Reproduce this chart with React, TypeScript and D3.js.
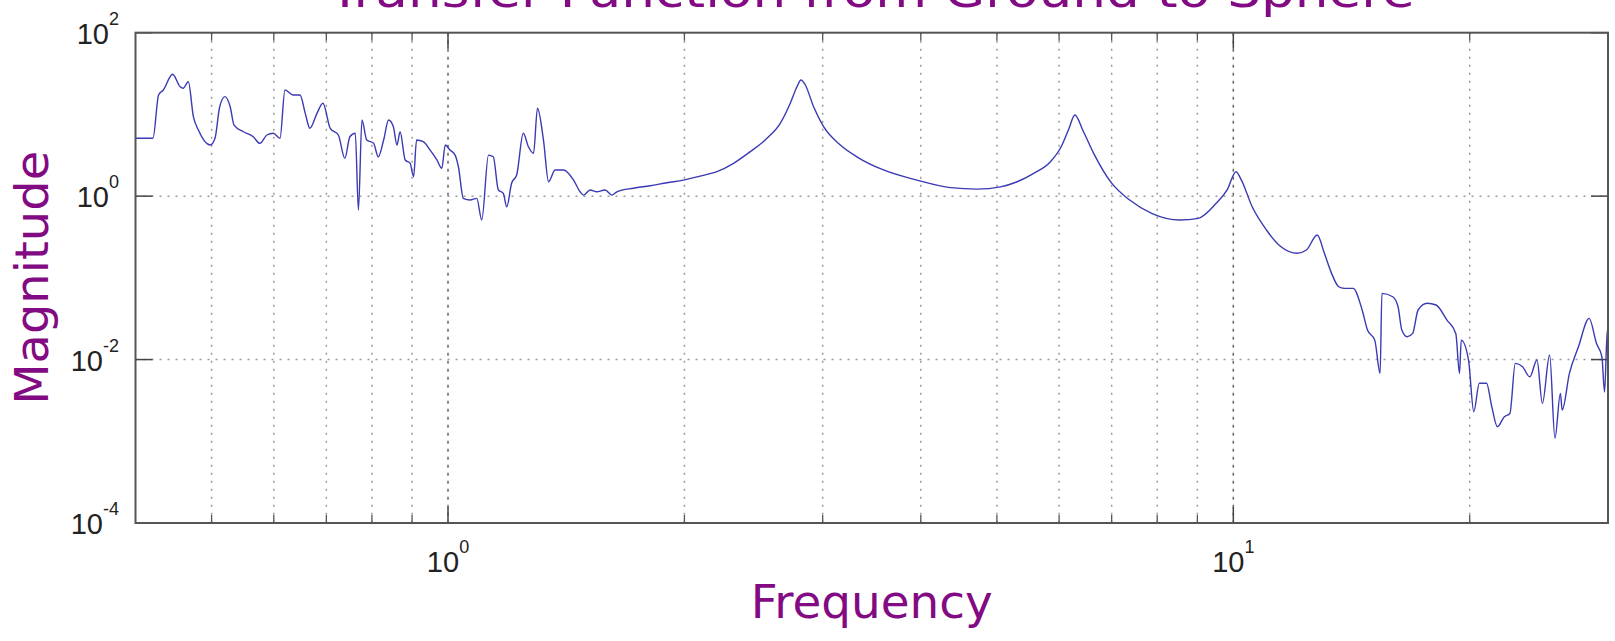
import React from "react";
import * as d3 from "d3";

const freq = [0.4, 0.421, 0.428, 0.434, 0.446, 0.456, 0.460, 0.467, 0.474, 0.481,
  0.498, 0.505, 0.512, 0.520, 0.528, 0.534, 0.549, 0.565, 0.576, 0.588,
  0.599, 0.611, 0.620, 0.635, 0.648, 0.658, 0.667, 0.681, 0.693, 0.708,
  0.725, 0.739, 0.750, 0.762, 0.769, 0.777, 0.788, 0.804, 0.815, 0.828,
  0.840, 0.852, 0.861, 0.869, 0.882, 0.895, 0.904, 0.912, 0.930, 0.949,
  0.968, 0.982, 0.992, 1.006, 1.021, 1.031, 1.046, 1.067, 1.088, 1.104,
  1.126, 1.142, 1.159, 1.176, 1.188, 1.205, 1.223, 1.247, 1.266, 1.285,
  1.300, 1.323, 1.343, 1.369, 1.403, 1.445, 1.473, 1.488, 1.517, 1.547,
  1.585, 1.617, 1.641, 1.722, 1.809, 1.901, 1.994, 2.094, 2.200, 2.310,
  2.426, 2.548, 2.649, 2.728, 2.782, 2.815, 2.851, 2.921, 3.008, 3.159,
  3.316, 3.585, 3.956, 4.364, 4.719, 5.053, 5.306, 5.570, 5.85, 6.037,
  6.166, 6.286, 6.43, 6.64, 7.00, 7.38, 7.87, 8.55, 9.02, 9.51,
  9.82, 10.08, 10.24, 10.57, 11.02, 11.50, 12.06, 12.39, 12.79, 13.06,
  13.34, 13.62, 13.84, 14.21, 14.59, 14.82, 15.14, 15.38, 15.46, 15.96,
  16.21, 16.39, 16.65, 16.92, 17.19, 17.65, 18.12, 18.71, 19.20, 19.41,
  19.51, 19.93, 20.24, 20.57, 21.01, 21.34, 21.69, 22.14, 22.50, 22.86,
  23.35, 23.85, 24.36, 24.75, 25.28, 25.68, 26.09, 26.23, 26.79, 27.51,
  28.39, 29.0, 29.47, 29.7, 29.94, 30];

const mag = [5.1, 5.1, 17.3, 19.9, 31.0, 21.8, 20.9, 25.1, 9.37, 6.44,
  4.22, 5.10, 12.4, 16.5, 12.4, 7.41, 6.14, 5.33, 4.43, 5.60,
  5.87, 5.10, 19.9, 17.3, 17.3, 10.3, 6.76, 10.3, 13.7, 6.76,
  5.60, 2.90, 5.33, 5.87, 0.676, 8.54, 4.86, 4.43, 3.03, 4.86,
  8.54, 7.07, 4.22, 6.14, 2.77, 2.52, 1.73, 4.86, 4.63, 3.66,
  2.77, 2.19, 4.22, 3.66, 3.18, 2.29, 0.94, 0.895, 0.94, 0.51,
  3.18, 3.03, 1.19, 1.08, 0.74, 1.44, 1.81, 5.87, 4.02, 3.34,
  11.9, 4.86, 1.50, 2.09, 2.09, 1.57, 1.13, 1.03, 1.19, 1.13,
  1.19, 1.03, 1.13, 1.25, 1.34, 1.46, 1.57, 1.76, 1.99, 2.52,
  3.50, 5.10, 7.78, 13.7, 21.8, 26.4, 22.9, 12.4, 7.07, 4.22,
  3.03, 2.09, 1.57, 1.27, 1.22, 1.30, 1.50, 1.90, 2.64, 4.02,
  6.44, 9.83, 6.44, 3.34, 1.44, 0.895, 0.616, 0.51, 0.535, 0.817,
  1.19, 1.99, 1.57, 0.74, 0.385, 0.240, 0.20, 0.219, 0.334, 0.20,
  0.1135, 0.0778, 0.0744, 0.0744, 0.0404, 0.0230, 0.0173, 0.00678, 0.0646, 0.0587,
  0.0443, 0.0230, 0.0190, 0.0209, 0.0404, 0.0488, 0.0465, 0.0304, 0.0209, 0.00678,
  0.0173, 0.00986, 0.0023, 0.00512, 0.00512, 0.00264, 0.00151, 0.0020, 0.00219, 0.00898,
  0.00817, 0.00615, 0.00986, 0.00291, 0.01135, 0.00109, 0.00386, 0.00241, 0.00678, 0.01435,
  0.0319, 0.0158, 0.0108, 0.004, 0.0230, 0.008];

const xMajorTicks = [1, 10];
const xMinorTicks = [0.5, 0.6, 0.7, 0.8, 0.9, 2, 3, 4, 5, 6, 7, 8, 9, 20];
const xTickExps = ["0", "1"];
const yTicks = [1e2, 1, 1e-2, 1e-4];
const yTickExps = ["2", "0", "-2", "-4"];

const titleText = "Transfer Function from Ground to Sphere";
const xLabel = "Frequency";
const yLabel = "Magnitude";

export default function App() {
  const W = 1615, H = 641;
  const L = 135.5, R = 1608, T = 32.7, B = 523;
  const x = d3.scaleLog().domain([0.4, 30]).range([L, R]);
  const y = d3.scaleLog().domain([1e-4, 1e2]).range([B, T]);
  const line = d3.line<number>().x((d, i) => x(freq[i])).y((d) => y(d)).curve(d3.curveMonotoneX);
  const path = line(mag) || "";
  const labelFont = "'Comic Sans MS', 'DejaVu Sans', sans-serif";
  const tickFont = "'Liberation Sans', Arial, sans-serif";
  const purple = "#820a82";
  return (
    <>
      <style>{"body{margin:0}"}</style>
      <svg width={W} height={H} style={{ display: "block", background: "#fff" }}>
        {/* grid */}
        {xMinorTicks.map((t) => (
          <line key={"gm" + t} x1={x(t)} x2={x(t)} y1={T} y2={B} stroke="#9a9a9a" strokeWidth={1.5} strokeDasharray="2,6" />
        ))}
        {xMajorTicks.map((t) => (
          <line key={"gM" + t} x1={x(t)} x2={x(t)} y1={T} y2={B} stroke="#666" strokeWidth={1.5} strokeDasharray="3,5" />
        ))}
        {yTicks.slice(1, 3).map((t) => (
          <line key={"gy" + t} x1={L} x2={R} y1={y(t)} y2={y(t)} stroke="#9a9a9a" strokeWidth={1.5} strokeDasharray="2,6" />
        ))}
        {/* ticks */}
        {xMinorTicks.map((t) => (
          <g key={"tm" + t}>
            <line x1={x(t)} x2={x(t)} y1={T} y2={T + 8} stroke="#555" strokeWidth={1.3} />
            <line x1={x(t)} x2={x(t)} y1={B} y2={B - 8} stroke="#555" strokeWidth={1.3} />
          </g>
        ))}
        {xMajorTicks.map((t) => (
          <g key={"tM" + t}>
            <line x1={x(t)} x2={x(t)} y1={T} y2={T + 16} stroke="#444" strokeWidth={1.5} />
            <line x1={x(t)} x2={x(t)} y1={B} y2={B - 16} stroke="#444" strokeWidth={1.5} />
          </g>
        ))}
        {yTicks.map((t) => (
          <g key={"ty" + t}>
            <line x1={L} x2={L + 17} y1={y(t)} y2={y(t)} stroke="#444" strokeWidth={1.5} />
            <line x1={R} x2={R - 17} y1={y(t)} y2={y(t)} stroke="#444" strokeWidth={1.5} />
          </g>
        ))}
        {/* data */}
        <path d={path} fill="none" stroke="#3a3ab4" strokeWidth={1.4} strokeLinejoin="round" />
        {/* frame */}
        <rect x={L} y={T} width={R - L} height={B - T} fill="none" stroke="#555" strokeWidth={2} />
        {/* y tick labels */}
        {yTicks.map((t, i) => (
          <text key={"yl" + t} x={119} y={y(t) + 11} textAnchor="end" fontFamily={tickFont} fontSize={29} fill="#222">
            <tspan>10</tspan>
            <tspan dy={-19} fontSize={18}>{yTickExps[i]}</tspan>
          </text>
        ))}
        {/* x tick labels */}
        {xMajorTicks.map((t, i) => (
          <text key={"xl" + t} x={x(t)} y={572} textAnchor="middle" fontFamily={tickFont} fontSize={29} fill="#222">
            <tspan>10</tspan>
            <tspan dy={-19} fontSize={18}>{xTickExps[i]}</tspan>
          </text>
        ))}
        {/* labels */}
        <text x={(L + R) / 2} y={7} textAnchor="middle" fontFamily={labelFont} fontSize={46} fill={purple}
          textLength={1086} lengthAdjust="spacingAndGlyphs">{titleText}</text>
        <text x={(L + R) / 2} y={618} textAnchor="middle" fontFamily={labelFont} fontSize={46} fill={purple}
          textLength={242} lengthAdjust="spacingAndGlyphs">{xLabel}</text>
        <text transform={`translate(48, ${(T + B) / 2}) rotate(-90)`} textAnchor="middle" fontFamily={labelFont}
          fontSize={46} fill={purple} textLength={254} lengthAdjust="spacingAndGlyphs">{yLabel}</text>
      </svg>
    </>
  );
}
